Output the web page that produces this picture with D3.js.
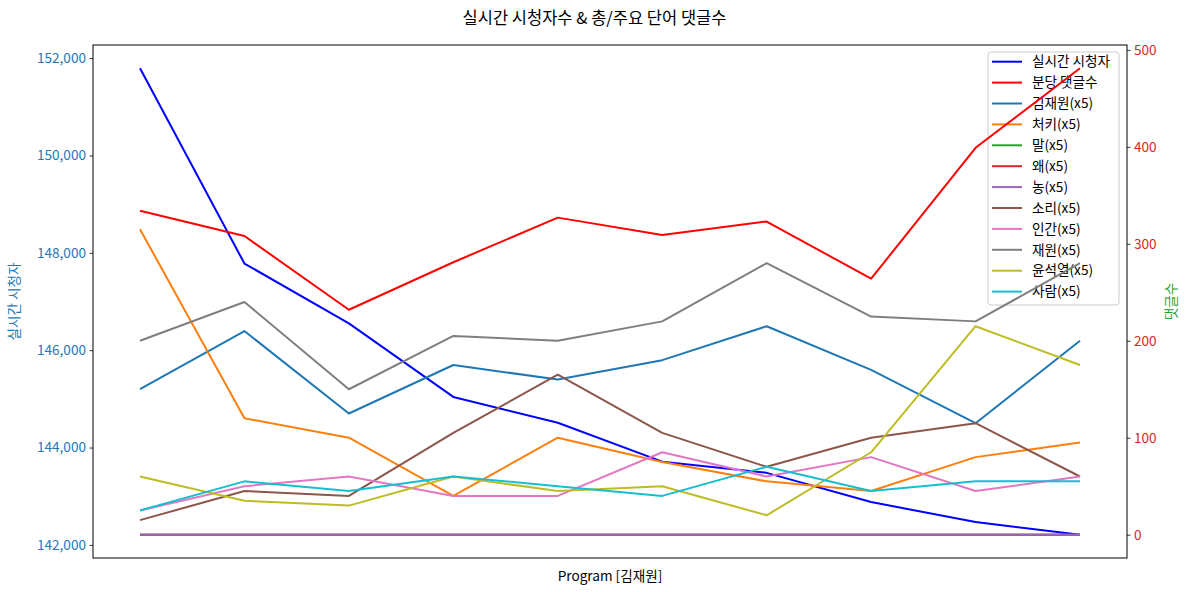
<!DOCTYPE html>
<html>
<head>
<meta charset="utf-8">
<script src="https://cdn.jsdelivr.net/npm/d3@7"></script>
<style>
  body { margin: 0; background: #fff; }
  svg { display: block; }
  text { font-family: "Noto Sans CJK KR", "Noto Sans", sans-serif; }
</style>
</head>
<body>
<svg id="chart" width="1189" height="592"></svg>
<script>
// ---- data ----
const points = ["1", "2", "3", "4", "5", "6", "7", "8", "9", "10"];
const viewers = [151790, 147780, 146550, 145040, 144510, 143710, 143480, 142880, 142470, 142210];
const commentsPerMin = [334, 308, 232, 281, 327, 309, 323, 264, 399, 481];
const kwNames = ["김재원(x5)", "처키(x5)", "말(x5)", "왜(x5)", "농(x5)", "소리(x5)", "인간(x5)", "재원(x5)", "윤석열(x5)", "사람(x5)"];
const kw김재원 = [150, 210, 125, 175, 160, 180, 215, 170, 115, 200];
const kw처키 = [315, 120, 100, 40, 100, 75, 55, 45, 80, 95];
const kw말 = [0, 0, 0, 0, 0, 0, 0, 0, 0, 0];
const kw왜 = [0, 0, 0, 0, 0, 0, 0, 0, 0, 0];
const kw농 = [0, 0, 0, 0, 0, 0, 0, 0, 0, 0];
const kw소리 = [15, 45, 40, 105, 165, 105, 70, 100, 115, 60];
const kw인간 = [25, 50, 60, 40, 40, 85, 60, 80, 45, 60];
const kw재원 = [200, 240, 150, 205, 200, 220, 280, 225, 220, 280];
const kw윤석열 = [60, 35, 30, 60, 45, 50, 20, 85, 215, 175];
const kw사람 = [25, 55, 45, 60, 50, 40, 70, 45, 55, 55];
const leftTicks = [142000, 144000, 146000, 148000, 150000, 152000];
const rightTicks = [0, 100, 200, 300, 400, 500];

const kwSeries = [kw김재원, kw처키, kw말, kw왜, kw농, kw소리, kw인간, kw재원, kw윤석열, kw사람];
const tab10 = ["#1f77b4", "#ff7f0e", "#2ca02c", "#d62728", "#9467bd", "#8c564b", "#e377c2", "#7f7f7f", "#bcbd22", "#17becf"];

// ---- layout ----
const W = 1189, H = 592;
const L = 93, R = 1127, T = 45, B = 558;
const FS = 13.6;

const svg = d3.select("#chart");

function padDomain(arr) {
  const mn = d3.min(arr), mx = d3.max(arr);
  const m = (mx - mn) * 0.05;
  return [mn - m, mx + m];
}

const x = d3.scaleLinear().domain([-0.45, points.length - 1 + 0.45]).range([L, R]);
const yL = d3.scaleLinear().domain(padDomain(viewers)).range([B, T]);
const allRight = [commentsPerMin].concat(kwSeries).flat();
const yR = d3.scaleLinear().domain(padDomain(allRight)).range([B, T]);

const lineL = d3.line().x((d, i) => x(i)).y(d => yL(d));
const lineR = d3.line().x((d, i) => x(i)).y(d => yR(d));

// left axis
const axL = d3.axisLeft(yL).tickValues(leftTicks).tickSize(3.5).tickPadding(3.5).tickFormat(d3.format(","));
const gL = svg.append("g").attr("transform", `translate(${L},0)`).call(axL);
gL.select(".domain").remove();
gL.selectAll(".tick line").attr("stroke", "#000").attr("stroke-width", 0.8);
gL.selectAll(".tick text").attr("fill", "#1f77b4").style("font-size", FS + "px");

// right axis
const axR = d3.axisRight(yR).tickValues(rightTicks).tickSize(3.5).tickPadding(3.5);
const gR = svg.append("g").attr("transform", `translate(${R},0)`).call(axR);
gR.select(".domain").remove();
gR.selectAll(".tick line").attr("stroke", "#000").attr("stroke-width", 0.8);
gR.selectAll(".tick text").attr("fill", "#d62728").style("font-size", FS + "px");

// ax1 line
svg.append("path").datum(viewers).attr("d", lineL)
  .attr("fill", "none").attr("stroke", "#0000ff").attr("stroke-width", 2).attr("stroke-linejoin", "round");

// legend (belongs to ax1, drawn before ax2 lines)
const legItems = [{name: "실시간 시청자", color: "#0000ff"}, {name: "분당 댓글수", color: "#ff0000"}]
  .concat(kwNames.map((n, i) => ({name: n, color: tab10[i]})));
const rowH = 20.9;
const lg = svg.append("g");
lg.append("rect").attr("x", 988).attr("y", 52).attr("width", 131).attr("height", 253)
  .attr("rx", 3).attr("fill", "#fff").attr("fill-opacity", 0.8).attr("stroke", "#cccccc").attr("stroke-width", 1);
legItems.forEach((it, i) => {
  const yy = 61.7 + i * rowH;
  lg.append("line").attr("x1", 992).attr("x2", 1022).attr("y1", yy).attr("y2", yy)
    .attr("stroke", it.color).attr("stroke-width", 2);
  lg.append("text").attr("x", 1032).attr("y", yy).attr("dy", "0.35em")
    .style("font-size", FS + "px").attr("fill", "#000").text(it.name);
});

// ax2 lines
svg.append("path").datum(commentsPerMin).attr("d", lineR)
  .attr("fill", "none").attr("stroke", "#ff0000").attr("stroke-width", 2).attr("stroke-linejoin", "round");
kwSeries.forEach((s, i) => {
  svg.append("path").datum(s).attr("d", lineR)
    .attr("fill", "none").attr("stroke", tab10[i]).attr("stroke-width", 2).attr("stroke-linejoin", "round");
});

// frame
svg.append("rect").attr("x", L).attr("y", T).attr("width", R - L).attr("height", B - T)
  .attr("fill", "none").attr("stroke", "#000").attr("stroke-width", 1);

// labels
svg.append("text").attr("x", W / 2).attr("y", 18).attr("text-anchor", "middle").attr("dy", "0.35em")
  .style("font-size", "16.5px").attr("fill", "#000").text("실시간 시청자수 & 총/주요 단어 댓글수");
svg.append("text").attr("x", (L + R) / 2).attr("y", 576).attr("text-anchor", "middle").attr("dy", "0.35em")
  .style("font-size", FS + "px").attr("fill", "#000").text("Program [김재원]");
svg.append("text").attr("transform", `translate(14,${(T + B) / 2}) rotate(-90)`).attr("text-anchor", "middle").attr("dy", "0.35em")
  .style("font-size", FS + "px").attr("fill", "#1f77b4").text("실시간 시청자");
svg.append("text").attr("transform", `translate(1171,${(T + B) / 2}) rotate(-90)`).attr("text-anchor", "middle").attr("dy", "0.35em")
  .style("font-size", FS + "px").attr("fill", "#2ca02c").text("댓글수");
</script>
</body>
</html>
